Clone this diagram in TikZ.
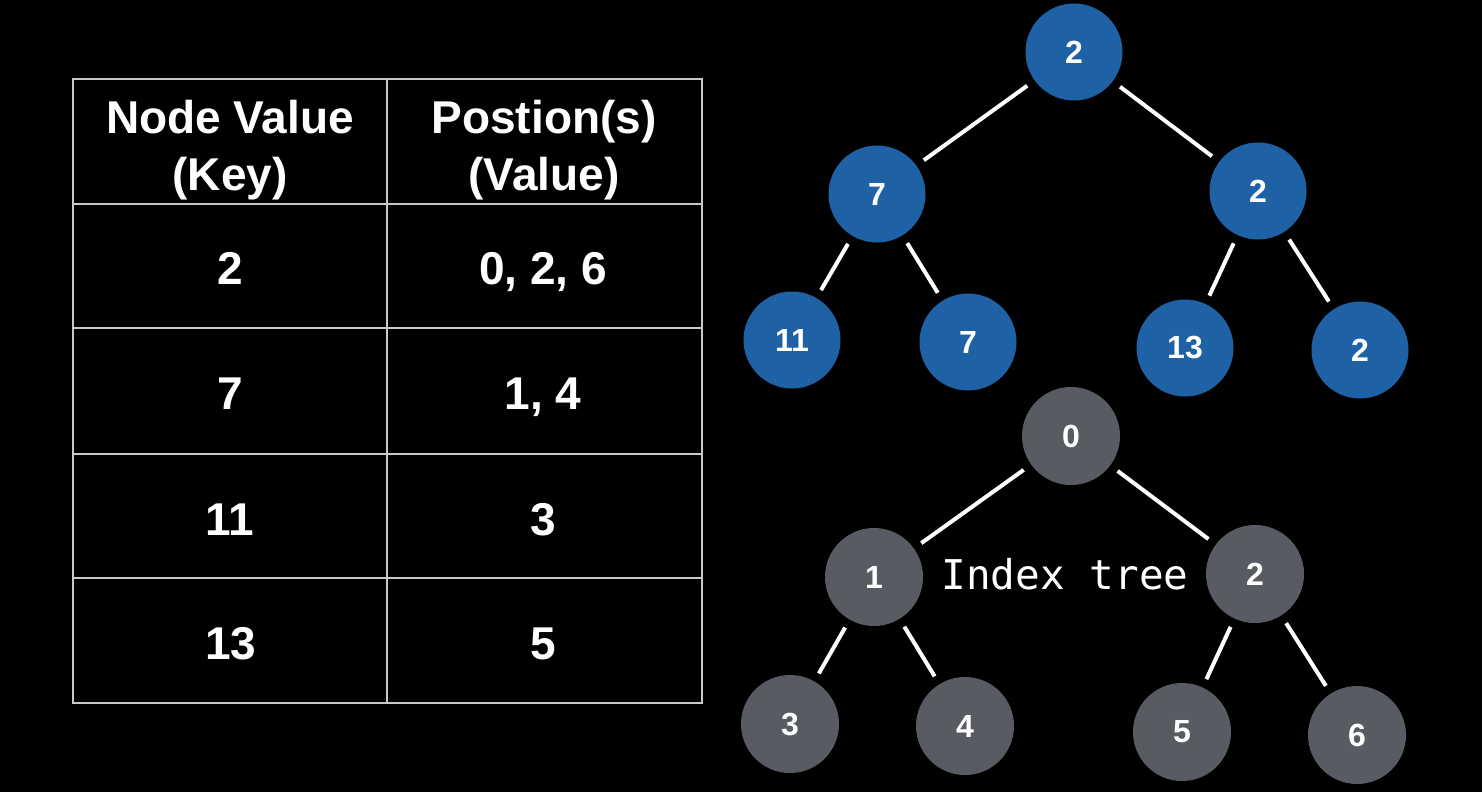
\documentclass[tikz,border=0pt]{standalone}
\usepackage{fontspec}
\setmainfont{Liberation Sans}
\newfontfamily\monofnt{DejaVu Sans Mono}
\definecolor{treeblue}{RGB}{30,98,165}
\definecolor{treegray}{RGB}{88,92,98}
\definecolor{gridgray}{RGB}{200,200,200}
\begin{document}
\begin{tikzpicture}[x=1pt,y=-1pt,
  bnode/.style={circle,fill=treeblue,minimum size=97pt,inner sep=0pt,text=white,font=\fontsize{32}{38}\selectfont\bfseries},
  gnode/.style={circle,fill=treegray,minimum size=98pt,inner sep=0pt,text=white,font=\fontsize{32}{38}\selectfont\bfseries},
  edge/.style={draw=white,line width=4pt,shorten >=9pt,shorten <=9pt},
  cell/.style={text=white,align=center,anchor=base,inner sep=0pt,font=\fontsize{46}{57}\selectfont\bfseries},
  grid/.style={draw=gridgray,line width=1.5pt}]
\fill[black] (0,0) rectangle (1482,792);
\useasboundingbox (0,0) rectangle (1482,792);
% table
\draw[grid] (73,79) rectangle (702,703);
\draw[grid] (387,79) -- (387,703);
\foreach \y in {204,328,454,578} \draw[grid] (73,\y) -- (702,\y);
\node[cell] (h1) at (230,190) {Node Value\\(Key)};
\node[cell] (h2) at (544,190) {Postion(s)\\(Value)};
\node[cell] (k1) at (230,284) {2};
\node[cell] (v1) at (543,284) {0, 2, 6};
\node[cell] (k2) at (230,409) {7};
\node[cell] (v2) at (543,409) {1, 4};
\node[cell] (k3) at (230,535) {11};
\node[cell] (v3) at (543,535) {3};
\node[cell] (k4) at (231,659) {13};
\node[cell] (v4) at (543,659) {5};
% blue tree
\node[bnode] (b0) at (1074,52) {2};
\node[bnode] (b1) at (877,194) {7};
\node[bnode] (b2) at (1258,191) {2};
\node[bnode] (b3) at (792,340) {11};
\node[bnode] (b4) at (968,342) {7};
\node[bnode] (b5) at (1185,348) {13};
\node[bnode] (b6) at (1360,350) {2};
\draw[edge] (b0) -- (b1);
\draw[edge] (b0) -- (b2);
\draw[edge] (b1) -- (b3);
\draw[edge] (b1) -- (b4);
\draw[edge] (b2) -- (b5);
\draw[edge] (b2) -- (b6);
% gray tree
\node[gnode] (g0) at (1071,436) {0};
\node[gnode] (g1) at (874,577) {1};
\node[gnode] (g2) at (1255,574) {2};
\node[gnode] (g3) at (790,724) {3};
\node[gnode] (g4) at (965,726) {4};
\node[gnode] (g5) at (1182,732) {5};
\node[gnode] (g6) at (1357,735) {6};
\draw[edge] (g0) -- (g1);
\draw[edge] (g0) -- (g2);
\draw[edge] (g1) -- (g3);
\draw[edge] (g1) -- (g4);
\draw[edge] (g2) -- (g5);
\draw[edge] (g2) -- (g6);
\node[text=white,font=\monofnt\fontsize{41}{48}\selectfont] (lbl) at (1065,574) {Index tree};
\end{tikzpicture}
\end{document}
